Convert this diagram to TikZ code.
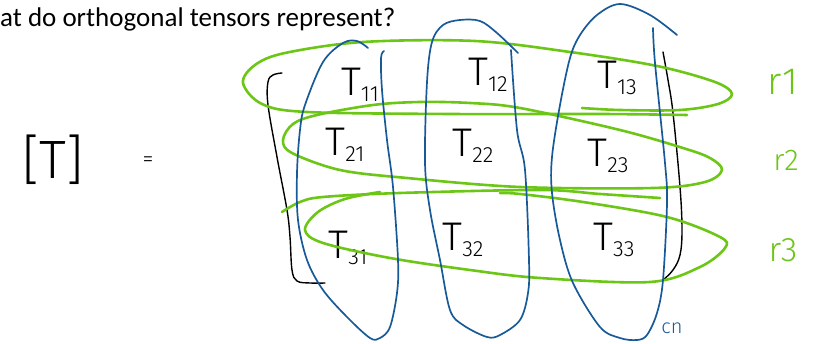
\documentclass[tikz,border=0pt]{standalone}
\usepackage{fontspec}
\setmainfont{Carlito}
\newfontfamily\hand{Fira Sans Light}
\definecolor{gr}{RGB}{108,198,22}
\definecolor{bl}{RGB}{24,90,152}
\newcommand\subn[1]{\raisebox{-6pt}{\fontsize{22}{22}\selectfont #1}}
\tikzset{
  tij/.style={font=\hand\fontsize{40}{40}\selectfont, inner sep=0pt},
  rlab/.style={font=\hand\fontsize{38}{38}\selectfont, text=gr, inner sep=0pt},
  gstroke/.style={draw=gr, line width=2.6pt, line cap=round, line join=round},
  bstroke/.style={draw=bl, line width=1.7pt, line cap=round, line join=round},
  kstroke/.style={draw=black, line width=1.4pt, line cap=round, line join=round}
}
\begin{document}
\begin{tikzpicture}[x=1pt,y=-1pt]
\useasboundingbox (0,0) rectangle (817,344);
% title
\node[anchor=base west, inner sep=0pt, font=\fontsize{27}{27}\selectfont] (title) at (0,27) {at do orthogonal tensors represent?};
% left-hand side
\node[font=\hand\fontsize{54}{54}\selectfont, inner sep=0pt] (lhs) at (53,160) {[T]};
\node[font=\hand\fontsize{22}{22}\selectfont, inner sep=0pt] (eq) at (148,162) {=};
% matrix brackets
\draw[kstroke] plot[smooth, tension=0.6] coordinates {(282,73) (273,75) (268,82) (268,105) (277,157) (287,210) (290,237) (292,270) (297,281) (310,283) (325,283)};
\draw[kstroke] plot[smooth, tension=0.6] coordinates {(663,52) (668,80) (673,113) (680,187) (682,230) (680,255) (673,270) (663,280)};
% entries
\node[tij] (t11) at (360,85) {T\subn{11}};
\node[tij] (t12) at (488,75) {T\subn{12}};
\node[tij] (t13) at (617,78) {T\subn{13}};
\node[tij] (t21) at (345,145) {T\subn{21}};
\node[tij] (t22) at (473,146) {T\subn{22}};
\node[tij] (t23) at (608,156) {T\subn{23}};
\node[tij] (t31) at (348,248) {T\subn{31}};
\node[tij] (t32) at (463,240) {T\subn{32}};
\node[tij] (t33) at (614,240) {T\subn{33}};
% row loops (green)
\draw[gstroke] plot[smooth, tension=0.55] coordinates {(687,115) (600,114) (450,114) (307,112) (262,104) (243,83) (255,65) (285,53) (363,42) (475,41) (570,52) (657,66) (715,82) (732,94) (718,104) (680,110) (620,110) (582,108)};
\draw[gstroke] plot[smooth cycle, tension=0.55] coordinates {(520,187) (653,188) (705,182) (722,170) (710,158) (683,148) (620,130) (520,108) (470,103) (420,102) (373,105) (317,115) (293,124) (283,140) (292,153) (340,170) (407,178)};
\draw[gstroke] plot[smooth, tension=0.55] coordinates {(282,212) (300,202) (323,197) (400,193) (540,190) (600,194) (660,198)};
\draw[gstroke] plot[smooth, tension=0.55] coordinates {(380,192) (345,199) (318,212) (305,230) (323,243) (390,258) (470,270) (540,278) (650,282) (700,267) (725,248) (720,237) (667,217) (583,202) (520,194) (500,193)};
% column loops (blue)
\draw[bstroke] plot[smooth, tension=0.55] coordinates {(368,48) (357,41) (343,43) (323,62) (305,105) (300,130) (297,173) (298,220) (307,260) (323,290) (347,317) (370,338) (380,338) (390,327) (397,293) (398,260) (393,187) (387,140) (382,90) (381,58) (384,51)};
\draw[bstroke] plot[smooth, tension=0.55] coordinates {(518,53) (497,33) (480,21) (460,20) (443,25) (432,42) (427,82) (425,163) (430,210) (440,260) (450,310) (463,325) (487,337) (500,335) (520,320) (528,293) (529,260) (525,170) (517,130) (511,50)};
\draw[bstroke] plot[smooth, tension=0.55] coordinates {(677,35) (650,15) (620,4) (597,15) (580,35) (570,58) (560,105) (552,157) (552,193) (560,240) (573,283) (600,327) (620,338) (637,340) (647,335) (657,313) (663,280) (667,203) (665,163) (655,63) (653,28)};
% row labels
\node[rlab] (r1) at (783,82) {r1};
\node[rlab, font=\hand\fontsize{30}{30}\selectfont] (r2) at (786,160) {r2};
\node[rlab, font=\hand\fontsize{34}{34}\selectfont] (r3) at (783,250) {r3};
% column label
\node[font=\hand\fontsize{20}{20}\selectfont, text=bl, inner sep=0pt, anchor=center] (cn) at (672,328) {cn};
\end{tikzpicture}
\end{document}
